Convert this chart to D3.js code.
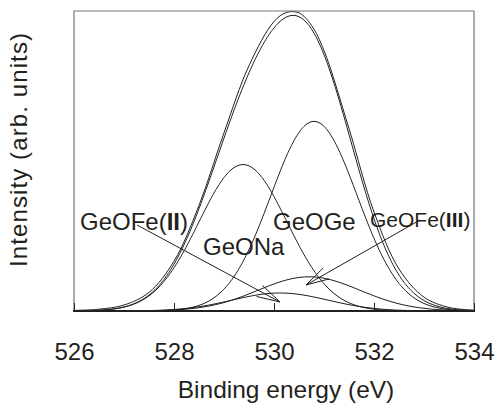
<!DOCTYPE html>
<html>
<head>
<meta charset="utf-8">
<script src="https://cdn.jsdelivr.net/npm/d3@7"></script>
<style>
body { margin: 0; background: #fff; }
text { font-family: "Liberation Sans", Arial, sans-serif; fill: #231f20; }
</style>
</head>
<body>
<div class="chart"></div>
<script>
// fitted O 1s components (center eV, height arb., FWHM eV)
var peakNames  = ["GeONa", "GeOGe", "GeOFe(II)", "GeOFe(III)"];
var peakCenter = [529.38, 530.80, 530.12, 530.70];
var peakHeight = [0.488, 0.632, 0.060, 0.114];
var peakFwhm   = [2.08, 2.04, 2.25, 2.40];

var dataEnergy = [526.0, 526.5, 527.0, 527.5, 528.0, 528.5, 529.0, 529.5, 530.0, 530.25,
                  530.5, 530.75, 531.0, 531.5, 532.0, 532.5, 533.0, 533.5, 534.0];
var dataCounts = [0.002, 0.006, 0.020, 0.062, 0.166, 0.352, 0.594, 0.818, 0.965, 0.995,
                  0.994, 0.952, 0.868, 0.608, 0.330, 0.140, 0.046, 0.012, 0.003];

var xTicks = [526, 528, 530, 532, 534];

var width = 495, height = 406;
var mLeft = 74, mRight = 474, mTop = 11, mBottom = 311;

var x = d3.scaleLinear().domain([526, 534]).range([mLeft, mRight]);
var y = d3.scaleLinear().domain([0, 1]).range([mBottom, mTop]);

function gauss(e, c, h, w) {
    var s = w / 2.3548;
    return h * Math.exp(-(e - c) * (e - c) / (2 * s * s));
}

function build_svg(c) {
    return c.append("svg").attr("width", width).attr("height", height);
}

function build_curves(s) {
    var grid = d3.range(526, 534.001, 0.02);
    var line = d3.line()
        .x(function(d) { return x(d[0]); })
        .y(function(d) { return y(d[1]); });

    var comps = peakNames.map(function(n, i) {
        return grid.map(function(e) {
            return [e, gauss(e, peakCenter[i], peakHeight[i], peakFwhm[i])];
        });
    });
    var envelope = grid.map(function(e, j) {
        return [e, d3.sum(comps, function(c) { return c[j][1]; })];
    });
    var measured = dataEnergy.map(function(e, i) { return [e, dataCounts[i]]; });

    var g = s.append("g").attr("fill", "none").attr("stroke", "#231f20").attr("stroke-width", 1);
    comps.forEach(function(c) { g.append("path").attr("d", line(c)); });
    g.append("path").attr("d", line(envelope));
    g.append("path").attr("d", line.curve(d3.curveCatmullRom)(measured));
}

function build_frame(s) {
    s.append("path")
        .attr("d", "M" + mLeft + "," + mBottom + "V" + mTop + "H" + mRight + "V" + mBottom)
        .attr("fill", "none").attr("stroke", "#777").attr("stroke-width", 1.2);
    s.append("line")
        .attr("x1", mLeft - 1).attr("x2", mRight + 1)
        .attr("y1", mBottom).attr("y2", mBottom)
        .attr("stroke", "#231f20").attr("stroke-width", 2);
}

function build_axis(s) {
    var xAxis = d3.axisBottom(x).tickValues(xTicks).tickSize(-8).tickPadding(32)
        .tickFormat(d3.format("d"));
    var ax = s.append("g").attr("transform", "translate(0," + mBottom + ")").call(xAxis);
    ax.select(".domain").remove();
    ax.selectAll("line").attr("stroke", "#231f20");
    ax.selectAll("text").attr("font-size", 24)
        .style("font-family", "'Liberation Sans', Arial, sans-serif").attr("fill", "#231f20");

    s.append("text").attr("x", 286).attr("y", 398).attr("text-anchor", "middle")
        .attr("font-size", 24.5).text("Binding energy (eV)");
    s.append("text").attr("transform", "translate(27,150) rotate(-90)")
        .attr("text-anchor", "middle").attr("font-size", 24).attr("textLength", 234)
        .text("Intensity (arb. units)");
}

function arrow(s, x0, y0, x1, y1) {
    var a = Math.atan2(y0 - y1, x0 - x1), L = 24, h = 15 * Math.PI / 180;
    var p = "M" + x0 + "," + y0 + "L" + x1 + "," + y1 +
        "M" + (x1 + L * Math.cos(a + h)) + "," + (y1 + L * Math.sin(a + h)) +
        "L" + x1 + "," + y1 +
        "L" + (x1 + L * Math.cos(a - h)) + "," + (y1 + L * Math.sin(a - h));
    s.append("path").attr("d", p).attr("fill", "none").attr("stroke", "#231f20").attr("stroke-width", 1);
}

function label(s, px, py, size, pre, bold, post) {
    var t = s.append("text").attr("x", px).attr("y", py).attr("font-size", size);
    t.append("tspan").text(pre);
    if (bold) {
        t.append("tspan").attr("font-weight", "bold").text(bold);
        t.append("tspan").text(post);
    }
}

function build_labels(s) {
    label(s, 80, 230, 24, "GeOFe(", "II", ")");
    label(s, 203, 255, 24, peakNames[0]);
    label(s, 273, 230, 24, peakNames[1]);
    label(s, 370, 227, 21, "GeOFe(", "III", ")");
    arrow(s, 137, 225, 280, 302);
    arrow(s, 420, 220, 306, 285);
}

function main() {
    var svg = build_svg(d3.select(".chart"));
    build_curves(svg);
    build_frame(svg);
    build_axis(svg);
    build_labels(svg);
}

main();
</script>
</body>
</html>
